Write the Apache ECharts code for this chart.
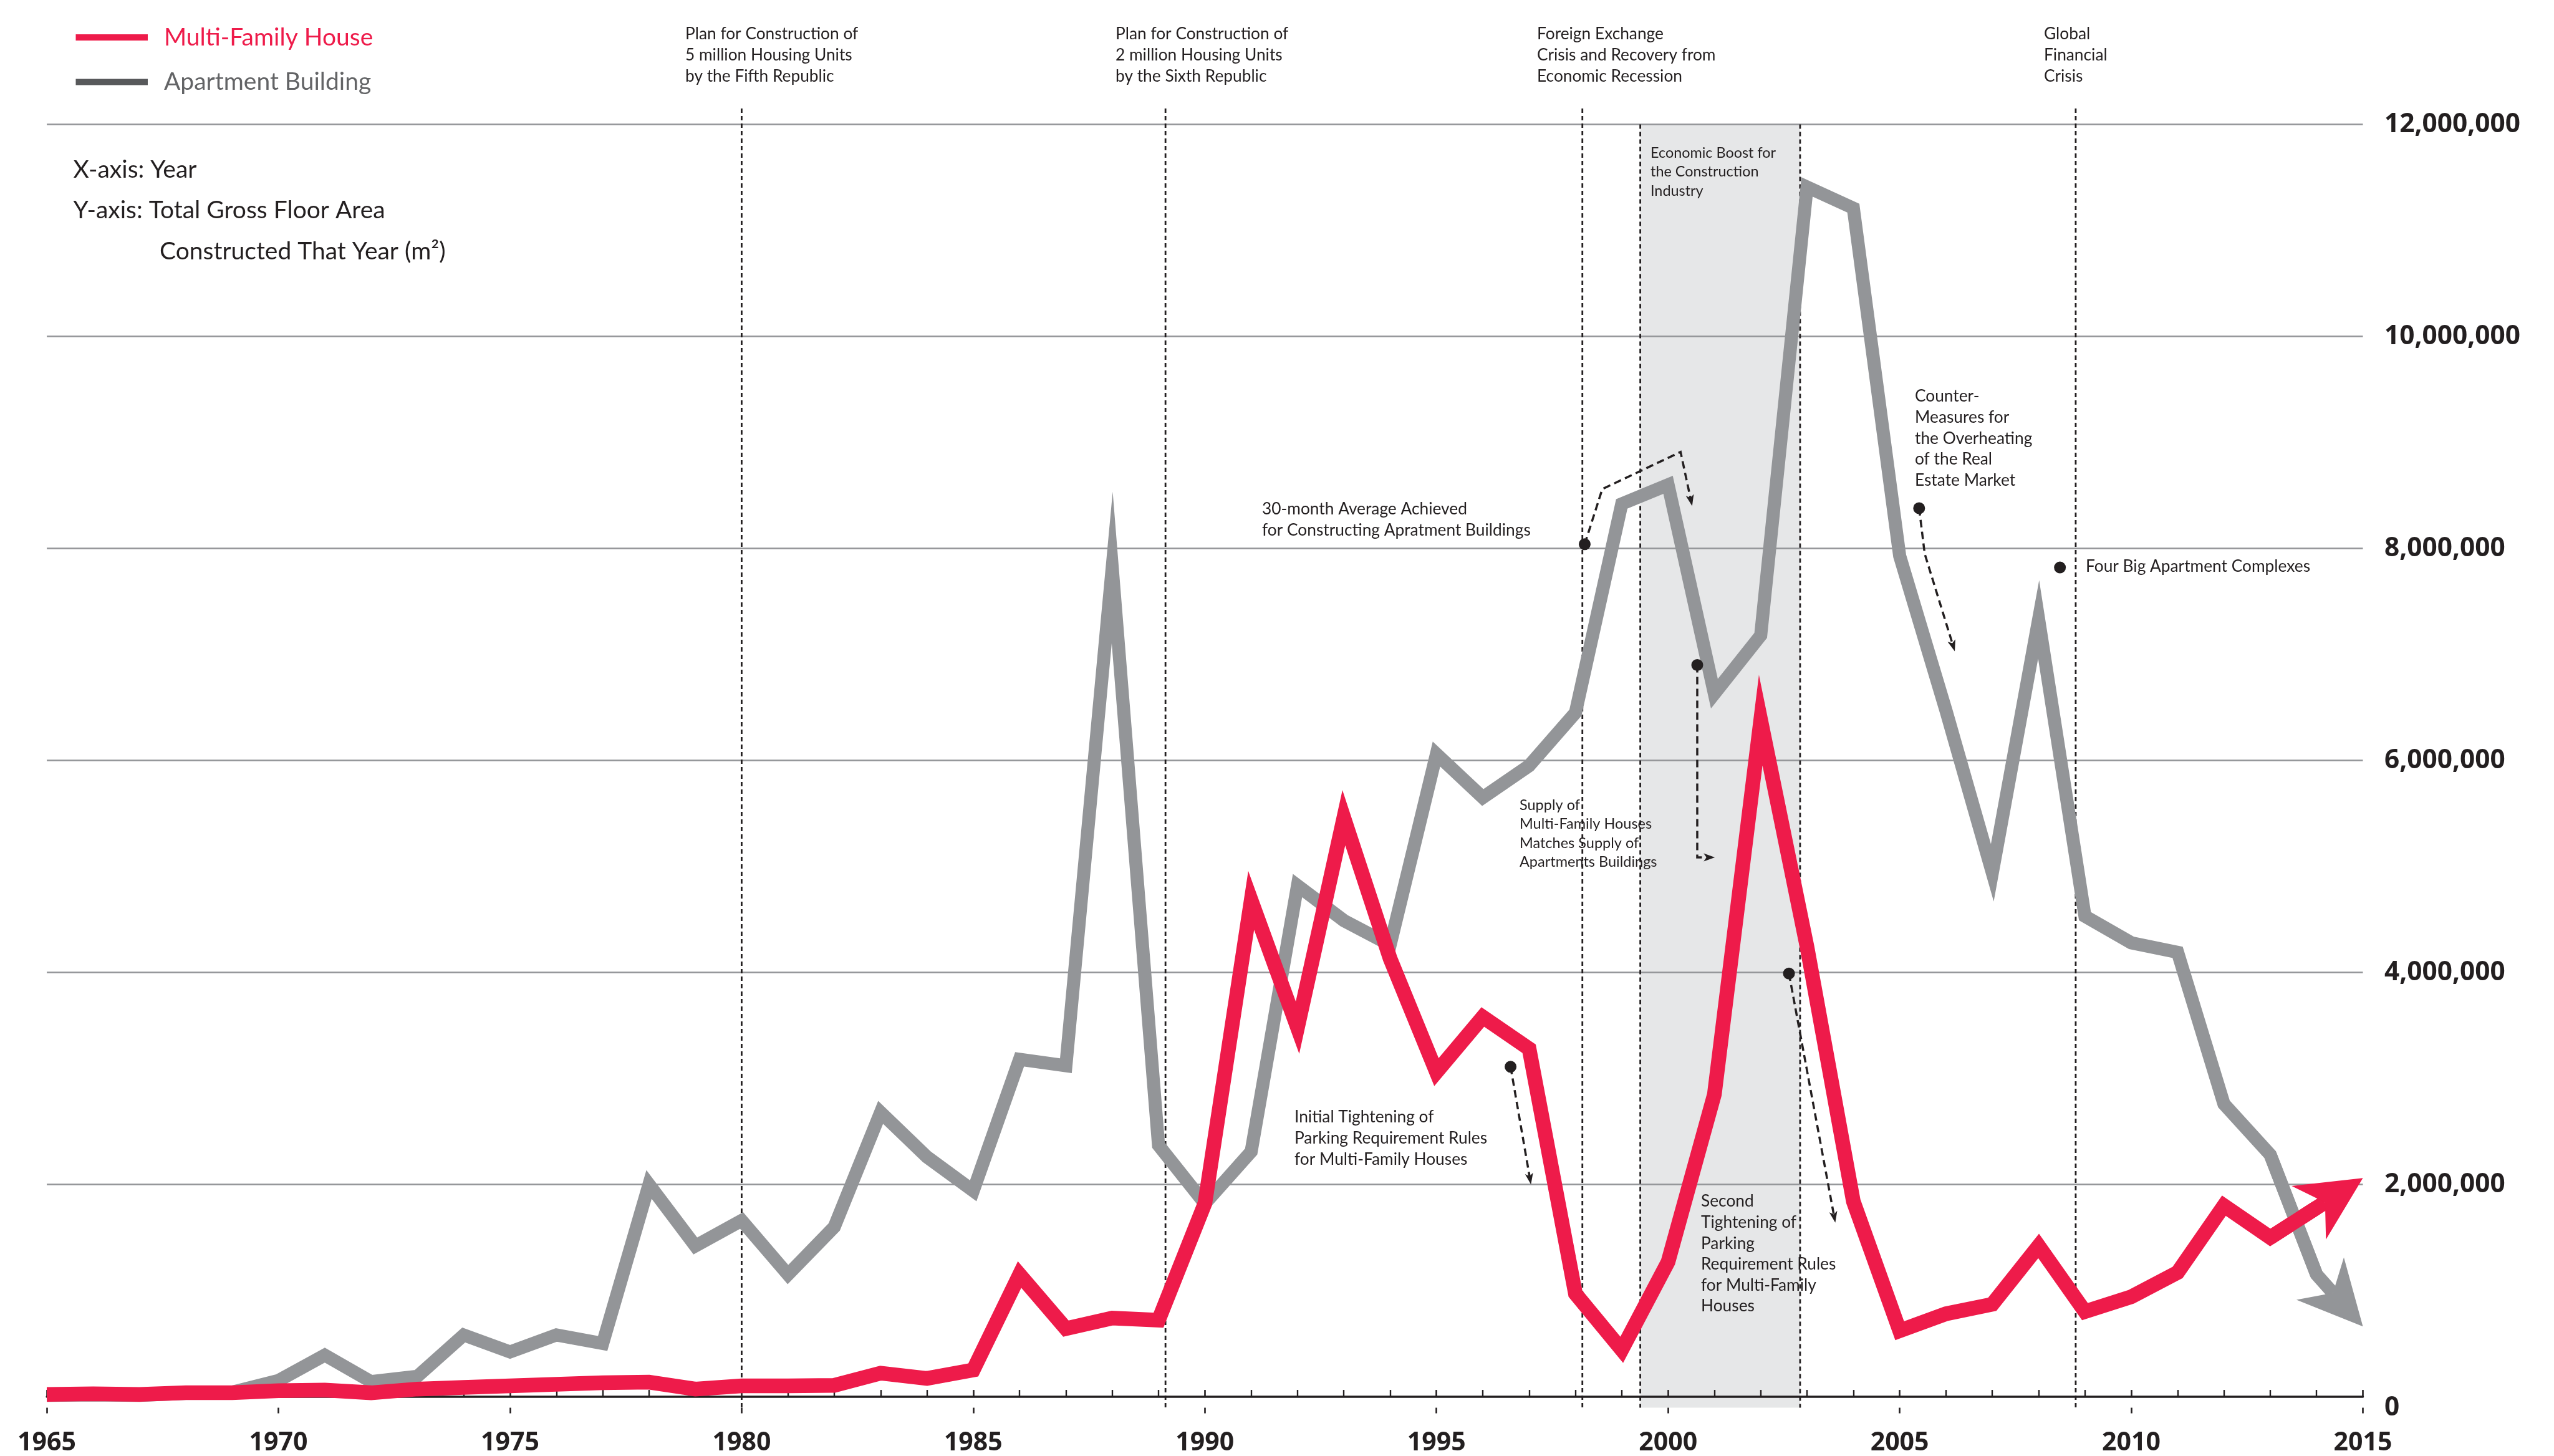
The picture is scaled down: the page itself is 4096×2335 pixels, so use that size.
<!DOCTYPE html>
<html>
<head>
<meta charset="utf-8">
<script src="https://cdn.jsdelivr.net/npm/echarts@6/dist/echarts.min.js"></script>
<style>
  html, body { margin: 0; padding: 0; background: #fff; }
  #chart { width: 4096px; height: 2335px; }
</style>
</head>
<body>
<div id="chart"></div>
<script>
// years on the x axis
const years = [1965, 1966, 1967, 1968, 1969, 1970, 1971, 1972, 1973, 1974,
  1975, 1976, 1977, 1978, 1979, 1980, 1981, 1982, 1983, 1984,
  1985, 1986, 1987, 1988, 1989, 1990, 1991, 1992, 1993, 1994,
  1995, 1996, 1997, 1998, 1999, 2000, 2001, 2002, 2003, 2004,
  2005, 2006, 2007, 2008, 2009, 2010, 2011, 2012, 2013, 2014, 2015];

// total gross floor area constructed (m2), last value = where the arrow points
const multiFamily = [20000, 25000, 20000, 35000, 35000, 55000, 60000, 35000, 70000, 85000,
  100000, 115000, 130000, 135000, 70000, 100000, 100000, 105000, 220000, 170000,
  250000, 1150000, 640000, 740000, 720000, 1820000, 4680000, 3480000, 5460000, 4130000,
  3060000, 3580000, 3280000, 970000, 440000, 1270000, 2850000, 6380000, 4240000, 1840000,
  620000, 780000, 870000, 1420000, 800000, 940000, 1170000, 1800000, 1500000, 1780000, 2060000];

const apartment = [10000, 15000, 10000, 30000, 40000, 150000, 390000, 140000, 190000, 580000,
  420000, 580000, 500000, 2000000, 1420000, 1660000, 1150000, 1600000, 2680000, 2260000,
  1940000, 3180000, 3120000, 7820000, 2370000, 1820000, 2310000, 4820000, 4490000, 4260000,
  6060000, 5650000, 5950000, 6450000, 8420000, 8600000, 6630000, 7180000, 11410000, 11210000,
  7930000, 6470000, 4940000, 7330000, 4530000, 4280000, 4190000, 2760000, 2280000, 1150000, 660000];

// policy / event markers (year positions)
const eventYears = [1980, 1989.15, 1998.15, 2008.8];
const boomBand = [1999.4, 2002.85];

// annotation dots and dashed arrows, in [year, m2]
const dots = [[1998.2, 8040000], [2000.63, 6900000], [2005.42, 8380000], [2008.46, 7820000],
  [1996.6, 3110000], [2002.61, 3990000]];
const arrowPaths = [
  [[1998.2, 8040000], [1998.58, 8560000], [2000.27, 8910000], [2000.52, 8400000]],
  [[2000.63, 6900000], [2000.63, 5085000], [2001.01, 5085000]],
  [[2005.42, 8380000], [2005.54, 7950000], [2006.19, 7030000]],
  [[1996.6, 3110000], [1997.04, 2000000]],
  [[2002.61, 3990000], [2003.61, 1640000]]
];

const RED = '#ee1b4a';
const GRAY = '#939598';
const INK = '#231f20';
const AXIS_OFFSET = 18;
const NUM_FONT = 'Open Sans';
const TXT_FONT = 'Lato';

// size a font so that a sample string gets a given width
const measureCtx = document.createElement('canvas').getContext('2d');
function fitSize(text, family, weight, width) {
  measureCtx.font = weight + ' 100px "' + family + '"';
  return 100 * width / measureCtx.measureText(text).width;
}
const yLabelSize = fitSize('12,000,000', NUM_FONT, 'bold', 218);
const xLabelSize = fitSize('1965', NUM_FONT, 'bold', 94);

const notes = [
  { lines: ['Plan for Construction of', '5 million Housing Units', 'by the Fifth Republic'], x: 1099, y: 55, lh: 34 },
  { lines: ['Plan for Construction of', '2 million Housing Units', 'by the Sixth Republic'], x: 1789, y: 55, lh: 34 },
  { lines: ['Foreign Exchange', 'Crisis and Recovery from', 'Economic Recession'], x: 2465, y: 55, lh: 34 },
  { lines: ['Global', 'Financial', 'Crisis'], x: 3278, y: 55, lh: 34 },
  { lines: ['Economic Boost for', 'the Construction', 'Industry'], x: 2647, y: 245, lh: 30.5, size: 23.4 },
  { lines: ['30-month Average Achieved', 'for Constructing Apratment Buildings'], x: 2024, y: 817, lh: 34 },
  { lines: ['Supply of', 'Multi-Family Houses', 'Matches Supply of', 'Apartments Buildings'], x: 2437, y: 1291, lh: 30.5, size: 23.5 },
  { lines: ['Counter-', 'Measures for', 'the Overheating', 'of the Real', 'Estate Market'], x: 3071, y: 636, lh: 33.6 },
  { lines: ['Four Big Apartment Complexes'], x: 3345, y: 909, lh: 34 },
  { lines: ['Initial Tightening of', 'Parking Requirement Rules', 'for Multi-Family Houses'], x: 2076, y: 1792, lh: 33.6 },
  { lines: ['Second', 'Tightening of', 'Parking', 'Requirement Rules', 'for Multi-Family', 'Houses'], x: 2728, y: 1927, lh: 33.6 },
  { lines: ['X-axis: Year'], x: 117.6, y: 272, lh: 40, size: 39 },
  { lines: ['Y-axis: Total Gross Floor Area'], x: 117.6, y: 337, lh: 40, size: 39 },
  { lines: ['Constructed That Year (m\u00b2)'], x: 256, y: 403, lh: 40, size: 39 }
];

// line up to 2014, the 2015 value is only used for the arrow head
function linePoints(vals) {
  return years.slice(0, years.length - 1).map((y, i) => [y, vals[i]]);
}

// notched arrow head, tip at `tip`, pointing away from `from` (pixel coords)
function headShape(tip, from, len, half, notch) {
  const dx = tip[0] - from[0], dy = tip[1] - from[1];
  const d = Math.hypot(dx, dy) || 1;
  const ux = dx / d, uy = dy / d, nx = -uy, ny = ux;
  return [
    tip,
    [tip[0] - ux * len + nx * half, tip[1] - uy * len + ny * half],
    [tip[0] - ux * len * notch, tip[1] - uy * len * notch],
    [tip[0] - ux * len - nx * half, tip[1] - uy * len - ny * half]
  ];
}

function arrowSeries(vals, color, width) {
  const n = years.length;
  return {
    type: 'custom', silent: true, z: 2,
    data: [[years[n - 1], vals[n - 1]]],
    encode: { x: 0, y: 1 },
    renderItem: (params, api) => {
      const p13 = api.coord([years[n - 3], vals[n - 3]]);
      const p14 = api.coord([years[n - 2], vals[n - 2]]);
      const tip = api.coord([api.value(0), api.value(1)]);
      const head = headShape(tip, p14, 103, 51, 0.7);
      return {
        type: 'group',
        children: [
          { type: 'polyline', shape: { points: [p13, p14, head[2]] },
            style: { stroke: color, lineWidth: width, fill: 'none', lineJoin: 'miter', miterLimit: 30 } },
          { type: 'polygon', shape: { points: head }, style: { fill: color } }
        ]
      };
    }
  };
}

const chart = echarts.init(document.getElementById('chart'));

const option = {
  animation: false,
  backgroundColor: '#fff',
  grid: { left: 75.1, right: 306.5, top: 199.5, bottom: 94.8 },
  legend: {
    orient: 'vertical',
    left: 116.5,
    top: 35,
    itemWidth: 115.5,
    itemHeight: 10,
    itemGap: 31.5,
    icon: 'rect',
    selectedMode: false,
    textStyle: { fontFamily: TXT_FONT, fontSize: 39, lineHeight: 40, padding: [0, 0, 0, 21] },
    data: [
      { name: 'Multi-Family House', textStyle: { color: RED }, itemStyle: { color: RED } },
      { name: 'Apartment Building', textStyle: { color: '#636466' }, itemStyle: { color: '#58595b' } }
    ]
  },
  xAxis: [
    {
      type: 'value', min: 1965, max: 2015, interval: 5,
      position: 'bottom', offset: AXIS_OFFSET,
      // the zero of the right-hand scale sits on the shifted axis line
      name: '0', nameLocation: 'end', nameGap: 34.5,
      nameTextStyle: {
        fontFamily: NUM_FONT, fontWeight: 'bold', fontSize: yLabelSize, color: INK,
        verticalAlign: 'top', lineHeight: AXIS_OFFSET * 2
      },
      axisLine: { lineStyle: { color: INK, width: 3.5 } },
      axisTick: { inside: true, length: 10.5, lineStyle: { color: INK, width: 2.6 } },
      minorTick: { show: true, splitNumber: 5, length: 10.5, lineStyle: { color: INK, width: 2.4 } },
      splitLine: { show: false },
      axisLabel: {
        margin: 57 - xLabelSize / 2, fontFamily: NUM_FONT, fontWeight: 'bold', fontSize: xLabelSize, color: INK,
        formatter: v => String(v)
      }
    },
    {
      type: 'value', min: 1965, max: 2015, interval: 5,
      position: 'bottom', offset: AXIS_OFFSET,
      axisLine: { show: false },
      axisTick: { inside: false, length: 9, lineStyle: { color: INK, width: 2.6 } },
      splitLine: { show: false },
      axisLabel: { show: false }
    }
  ],
  yAxis: {
    type: 'value', min: 0, max: 12000000, interval: 2000000,
    position: 'right',
    axisLine: { show: false },
    axisTick: { show: false },
    splitLine: { showMinLine: false, lineStyle: { color: GRAY, width: 2.6 } },
    axisLabel: {
      margin: 34.5, fontFamily: NUM_FONT, fontWeight: 'bold', fontSize: yLabelSize, color: INK,
      formatter: v => (v === 0 ? '' : v.toLocaleString('en-US'))
    }
  },
  graphic: notes.map(n => ({
    type: 'text',
    x: n.x,
    y: n.y - n.lh / 2,
    z: 10,
    silent: true,
    style: {
      text: n.lines.join('\n'),
      fontFamily: TXT_FONT,
      fontSize: n.size || 26.3,
      lineHeight: n.lh,
      fill: INK,
      verticalAlign: 'top'
    }
  })),
  series: [
    {
      // shaded band
      type: 'custom', z: -1, silent: true,
      data: [[boomBand[0], boomBand[1], 12000000]],
      encode: { x: [0, 1], y: 2 },
      renderItem: (params, api) => {
        const a = api.coord([api.value(0), api.value(2)]);
        const b = api.coord([api.value(1), 0]);
        return {
          type: 'rect',
          shape: { x: a[0], y: a[1], width: b[0] - a[0], height: b[1] + AXIS_OFFSET - a[1] },
          style: { fill: '#e6e7e8' }
        };
      }
    },
    {
      name: 'Apartment Building',
      type: 'line',
      data: linePoints(apartment),
      showSymbol: false, symbol: 'none', silent: true,
      lineStyle: { color: GRAY, width: 21, join: 'miter', miterLimit: 30 },
      itemStyle: { color: GRAY },
      markPoint: {
        silent: true, symbol: 'circle', symbolSize: 19,
        itemStyle: { color: INK }, label: { show: false },
        data: dots.map(c => ({ coord: c }))
      }
    },
    arrowSeries(apartment, GRAY, 21),
    {
      name: 'Multi-Family House',
      type: 'line',
      data: linePoints(multiFamily),
      showSymbol: false, symbol: 'none', silent: true,
      lineStyle: { color: RED, width: 23.5, join: 'miter', miterLimit: 30 },
      itemStyle: { color: RED }
    },
    arrowSeries(multiFamily, RED, 23.5),
    {
      // dotted event lines and band edges
      type: 'custom', z: 3, silent: true,
      data: eventYears.map(y => [y, 12150000]).concat(boomBand.map(y => [y, 12000000])),
      encode: { x: 0, y: 1 },
      renderItem: (params, api) => {
        const top = api.coord([api.value(0), api.value(1)]);
        const base = api.coord([api.value(0), 0]);
        return {
          type: 'line',
          shape: { x1: top[0], y1: top[1], x2: base[0], y2: base[1] + AXIS_OFFSET },
          style: { stroke: INK, lineWidth: 2.8, lineDash: [7, 5] }
        };
      }
    },
    {
      // dashed annotation arrows
      type: 'custom', z: 4, silent: true,
      data: arrowPaths.map((p, i) => [p[p.length - 1][0], p[p.length - 1][1], i]),
      encode: { x: 0, y: 1 },
      renderItem: (params, api) => {
        const pts = arrowPaths[api.value(2)].map(c => api.coord(c));
        const tip = pts[pts.length - 1];
        const head = headShape(tip, pts[pts.length - 2], 18, 6.5, 0.75);
        return {
          type: 'group',
          children: [
            { type: 'polyline', shape: { points: pts.slice(0, -1).concat([head[2]]) },
              style: { stroke: INK, lineWidth: 3.5, lineDash: [12, 7], fill: 'none' } },
            { type: 'polygon', shape: { points: head }, style: { fill: INK } }
          ]
        };
      }
    }
  ]
};

chart.setOption(option);
</script>
</body>
</html>
